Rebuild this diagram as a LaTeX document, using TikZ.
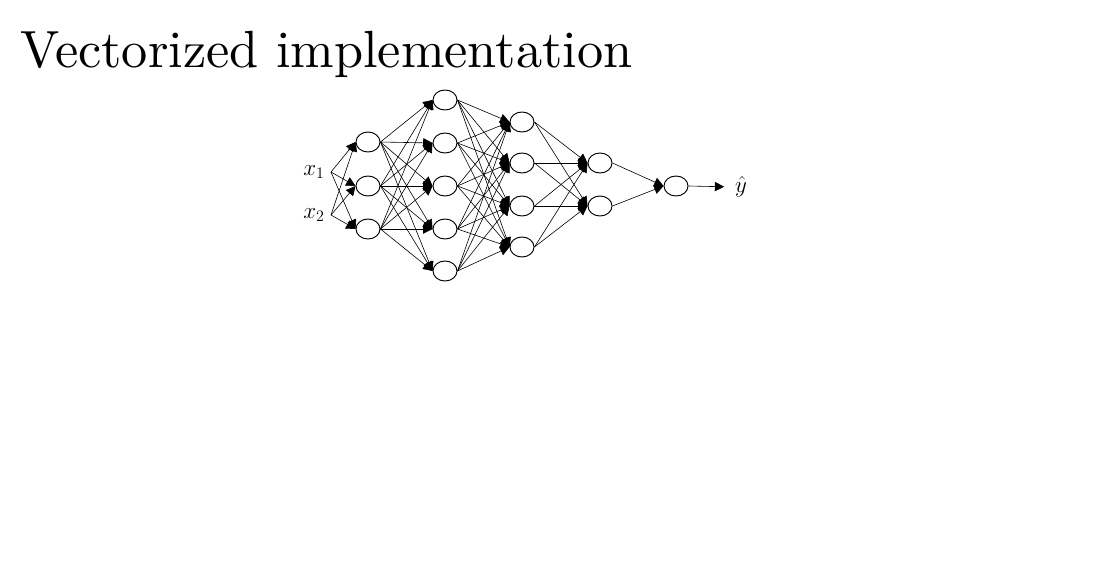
\documentclass[tikz,border=0pt]{standalone}
\usetikzlibrary{shapes.geometric,arrows.meta}
\begin{document}
\begin{tikzpicture}[x=0.75pt,y=-0.75pt,
  neuron/.style={draw,ellipse,line width=0.7pt,minimum width=18pt,minimum height=15pt,inner sep=0pt},
  conn/.style={line width=0.45pt,-{Triangle[length=7pt,width=7pt]}},
  lbl/.style={inner sep=0pt,font=\fontsize{17}{19}\selectfont}]
\useasboundingbox (0,0) rectangle (1115,569);
\node[anchor=base west,inner sep=0pt] (title) at (20,67) {\resizebox{459pt}{!}{Vectorized implementation}};
% inputs
\node[lbl] (x1) at (314,172) {$x_1$};
\node[lbl] (x2) at (314,215) {$x_2$};
\coordinate (i1) at (331,172);
\coordinate (i2) at (331,215);
% layer 1
\foreach \i/\y in {1/142,2/186,3/229} \node[neuron] (a\i) at (368,\y) {};
% layer 2
\foreach \i/\y in {1/100,2/143,3/186,4/229,5/271} \node[neuron] (b\i) at (445,\y) {};
% layer 3
\foreach \i/\y in {1/122,2/163,3/206,4/247} \node[neuron] (c\i) at (522,\y) {};
% layer 4
\foreach \i/\y in {1/163,2/206} \node[neuron] (d\i) at (600,\y) {};
% layer 5
\node[neuron] (e1) at (676,186) {};
\node[lbl] (yhat) at (741,187) {$\hat{y}$};
% connections
\foreach \j in {1,2,3} {\draw[conn] (i1) -- (a\j.west); \draw[conn] (i2) -- (a\j.west);}
\foreach \i in {1,2,3} \foreach \j in {1,...,5} \draw[conn] (a\i.east) -- (b\j.west);
\foreach \i in {1,...,5} \foreach \j in {1,...,4} \draw[conn] (b\i.east) -- (c\j.west);
\foreach \i in {1,...,4} \foreach \j in {1,2} \draw[conn] (c\i.east) -- (d\j.west);
\foreach \i in {1,2} \draw[conn] (d\i.east) -- (e1.west);
\draw[conn,shorten >=8pt] (e1.east) -- (yhat.west);
\end{tikzpicture}
\end{document}
